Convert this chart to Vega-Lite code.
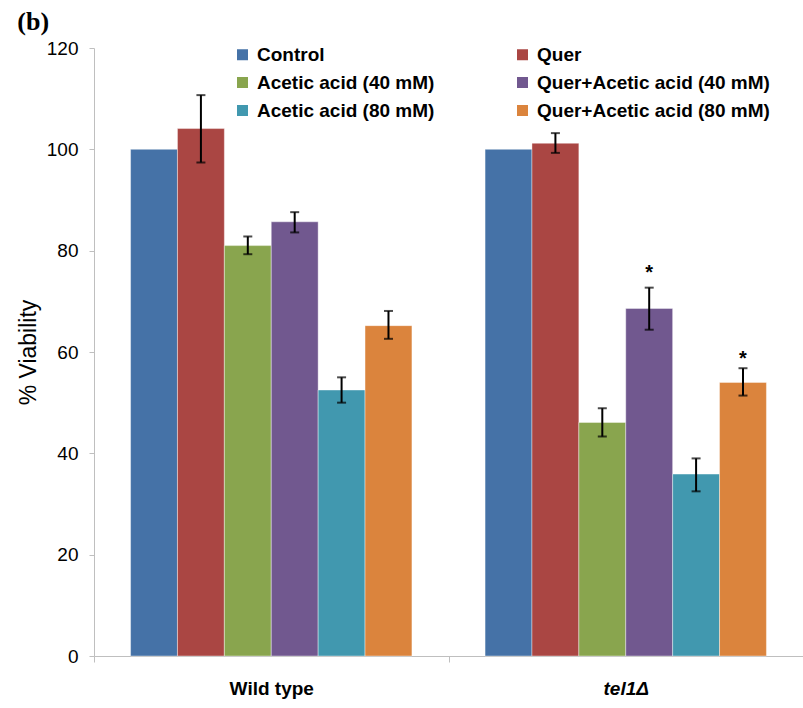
{
  "$schema": "https://vega.github.io/schema/vega-lite/v6.json",
  "width": 709,
  "height": 608,
  "autosize": "none",
  "padding": {"left": 94, "top": 48, "right": 0, "bottom": 52},
  "background": "white",
  "title": {"text": "(b)", "anchor": "start", "frame": "bounds", "font": "Liberation Serif", "fontSize": 26, "fontWeight": "bold", "color": "black", "offset": 4},
  "config": {"view": {"stroke": null}, "font": "Liberation Sans"},
  "data": {"values": [
    {"group": "Wild type", "treat": "Control", "v": 100},
    {"group": "Wild type", "treat": "Quer", "v": 104.1, "lo": 97.4, "hi": 110.7},
    {"group": "Wild type", "treat": "Acetic acid (40 mM)", "v": 81.0, "lo": 79.3, "hi": 82.8},
    {"group": "Wild type", "treat": "Quer+Acetic acid (40 mM)", "v": 85.7, "lo": 83.6, "hi": 87.6},
    {"group": "Wild type", "treat": "Acetic acid (80 mM)", "v": 52.5, "lo": 50.0, "hi": 55.0},
    {"group": "Wild type", "treat": "Quer+Acetic acid (80 mM)", "v": 65.2, "lo": 62.6, "hi": 68.1},
    {"group": "tel1Δ", "treat": "Control", "v": 100},
    {"group": "tel1Δ", "treat": "Quer", "v": 101.2, "lo": 99.3, "hi": 103.2},
    {"group": "tel1Δ", "treat": "Acetic acid (40 mM)", "v": 46.1, "lo": 43.3, "hi": 48.9},
    {"group": "tel1Δ", "treat": "Quer+Acetic acid (40 mM)", "v": 68.6, "lo": 64.4, "hi": 72.7, "star": 76.5},
    {"group": "tel1Δ", "treat": "Acetic acid (80 mM)", "v": 35.9, "lo": 32.5, "hi": 39.0},
    {"group": "tel1Δ", "treat": "Quer+Acetic acid (80 mM)", "v": 54.0, "lo": 51.4, "hi": 56.8, "star": 59.6}
  ]},
  "encoding": {
    "x": {"field": "group", "type": "nominal", "sort": ["Wild type", "tel1Δ"],
      "scale": {"paddingInner": 0, "paddingOuter": 0},
      "axis": {"title": null, "labelAngle": 0, "domainColor": "#bfbfbf", "tickColor": "#bfbfbf", "tickBand": "extent", "tickSize": 6,
        "labelFont": "Liberation Sans", "labelFontSize": 19, "labelFontWeight": "bold", "labelColor": "black", "labelPadding": 17,
        "labelFontStyle": {"condition": {"test": "datum.value === 'tel1Δ'", "value": "italic"}, "value": "normal"}}},
    "xOffset": {"field": "treat", "type": "nominal",
      "sort": ["Control", "Quer", "Acetic acid (40 mM)", "Quer+Acetic acid (40 mM)", "Acetic acid (80 mM)", "Quer+Acetic acid (80 mM)"],
      "scale": {"paddingInner": 0, "paddingOuter": 0.78}}
  },
  "layer": [
    {
      "mark": {"type": "bar", "stroke": "white", "strokeWidth": 0.8, "strokeOpacity": 0.5},
      "encoding": {
        "y": {"field": "v", "type": "quantitative", "scale": {"domain": [0, 120]},
          "axis": {"values": [0, 20, 40, 60, 80, 100, 120], "grid": false, "title": "% Viability", "domainColor": "#bfbfbf", "tickColor": "#bfbfbf", "tickSize": 5,
            "labelFont": "Liberation Sans", "labelFontSize": 19, "labelColor": "black", "labelPadding": 11,
            "titleFont": "Liberation Sans", "titleFontSize": 23, "titleFontWeight": "normal", "titleColor": "black", "titlePadding": 6}},
        "color": {"field": "treat", "type": "nominal",
          "scale": {"domain": ["Control", "Acetic acid (40 mM)", "Acetic acid (80 mM)", "Quer", "Quer+Acetic acid (40 mM)", "Quer+Acetic acid (80 mM)"],
            "range": ["#4572A7", "#89A54E", "#4198AF", "#AA4643", "#71588F", "#DB843D"]},
          "legend": {"orient": "none", "legendX": 139, "legendY": -3, "columns": 2, "columnPadding": 78, "rowPadding": 8, "title": null,
            "symbolType": "square", "symbolSize": 121, "symbolStrokeWidth": 0, "labelFont": "Liberation Sans", "labelFontSize": 19, "labelFontWeight": "bold", "labelColor": "black", "labelOffset": 5, "labelLimit": 400}}
      }
    },
    {
      "mark": {"type": "rule", "color": "black", "strokeWidth": 2},
      "encoding": {"y": {"field": "lo", "type": "quantitative"}, "y2": {"field": "hi"}}
    },
    {
      "mark": {"type": "tick", "color": "black", "size": 9, "thickness": 2, "orient": "horizontal"},
      "encoding": {"y": {"field": "lo", "type": "quantitative"}}
    },
    {
      "mark": {"type": "tick", "color": "black", "size": 9, "thickness": 2, "orient": "horizontal"},
      "encoding": {"y": {"field": "hi", "type": "quantitative"}}
    },
    {
      "mark": {"type": "text", "text": "*", "font": "Liberation Sans", "fontSize": 20, "fontWeight": "bold", "color": "black", "baseline": "middle", "dy": 5},
      "encoding": {"y": {"field": "star", "type": "quantitative"}}
    }
  ]
}
